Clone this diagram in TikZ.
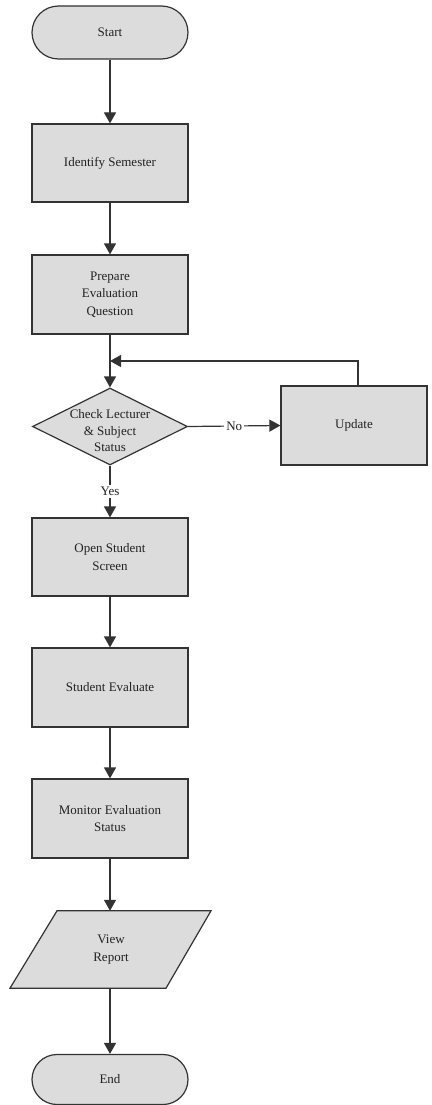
\documentclass[tikz,border=0pt]{standalone}
\usepackage{fontspec}
\setmainfont{Liberation Serif}
\usetikzlibrary{arrows.meta,shapes.geometric,shapes.misc,backgrounds}
\definecolor{boxfill}{HTML}{DCDCDC}
\definecolor{boxline}{HTML}{333333}
\definecolor{txt}{HTML}{222222}
\begin{document}
\begin{tikzpicture}[x=1pt,y=1pt,
  every node/.style={font=\fontsize{13}{17.5}\selectfont, text=txt},
  procbox/.style={draw=boxline, fill=boxfill, line width=1.2pt, rectangle, inner sep=0pt, align=center},
  termbox/.style={draw=boxline, fill=boxfill, line width=1.2pt, rounded rectangle, inner sep=0pt, align=center},
  decbox/.style={draw=boxline, fill=boxfill, line width=1.2pt, diamond, inner sep=0pt, minimum width=155pt, minimum height=77pt},
  ioshape/.style={draw=boxline, fill=boxfill, line width=1.2pt, line join=miter},
  flow/.style={draw=boxline, line width=1.2pt, -{Triangle[length=11pt,width=12pt]}},
  lbl/.style={fill=white, inner sep=2pt}
]
\useasboundingbox (0,0) rectangle (431,-1105);

\node[termbox, minimum width=156pt, minimum height=53pt] (start) at (110,-32.5) {Start};
\node[procbox, minimum width=156pt, minimum height=78pt] (ident) at (110,-163) {Identify Semester};
\node[procbox, minimum width=156pt, minimum height=79pt] (prep) at (110,-294.5) {Prepare\\Evaluation\\Question};
\coordinate (merge) at (110,-361);
\node[decbox] (check) at (110,-426.5) {};
\node[align=center, font=\fontsize{13}{16.5}\selectfont] (checktxt) at (110,-431) {Check Lecturer\\\& Subject\\Status};
\node[procbox, minimum width=146pt, minimum height=79pt] (update) at (354,-425.5) {Update};
\coordinate (upd) at (358,-386);
\node[procbox, minimum width=156pt, minimum height=78pt] (open) at (110,-557) {Open Student\\Screen};
\node[procbox, minimum width=156pt, minimum height=79pt] (eval) at (110,-687.5) {Student Evaluate};
\node[procbox, minimum width=156pt, minimum height=79pt] (monitor) at (110,-818.5) {Monitor Evaluation\\Status};
\node[draw=none, minimum width=155pt, minimum height=77pt, inner sep=0pt, align=center] (view) at (111,-949.5) {View\\Report};
\begin{scope}[on background layer]
  \path[ioshape] ([xshift=-54pt]view.north) -- ([xshift=100pt]view.north)
    -- ([xshift=55pt]view.south) -- ([xshift=-101pt]view.south) -- cycle;
\end{scope}
\node[termbox, minimum width=156pt, minimum height=50pt] (end) at (110,-1079.5) {End};

\draw[flow] (start.south) -- (ident.north);
\draw[flow] (ident.south) -- (prep.north);
\draw[flow] (prep.south) -- (check.north);
\draw[flow] (update.north -| upd) |- (merge);
\draw[flow] (check.east) -- node[lbl, pos=0.5] (nolbl) {No} (update.west);
\draw[flow] (check.south) -- node[lbl, pos=0.5] (yeslbl) {Yes} (open.north);
\draw[flow] (open.south) -- (eval.north);
\draw[flow] (eval.south) -- (monitor.north);
\draw[flow] (monitor.south) -- (monitor.south |- view.north);
\draw[flow] (end.north |- view.south) -- (end.north);
\end{tikzpicture}
\end{document}
